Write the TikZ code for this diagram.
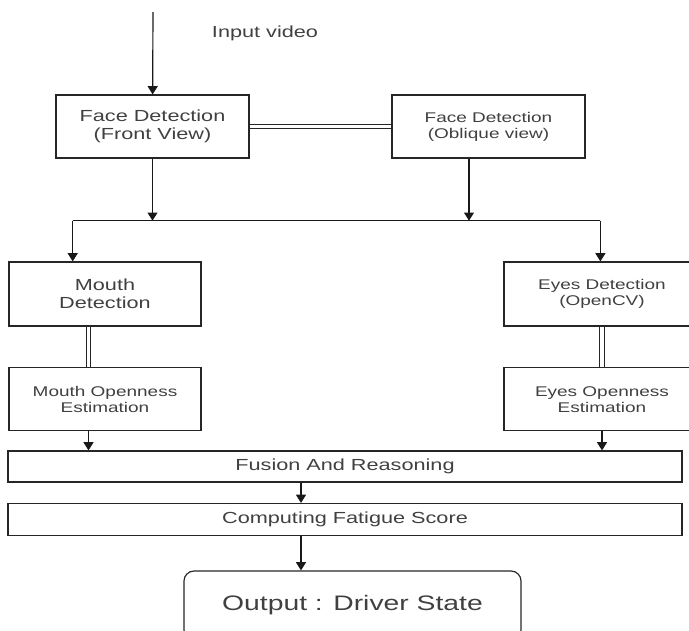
\documentclass[tikz,border=0pt]{standalone}
\usepackage{fontspec}
\setmainfont[FakeStretch=1.35]{Liberation Sans}
\usetikzlibrary{arrows.meta}

\begin{document}
\begin{tikzpicture}[x=0.03cm,y=-0.03cm,line width=1pt,
    every node/.style={text=black!75,align=center,font=\fontsize{13.7}{15}\selectfont},
    smalltext/.style={font=\fontsize{12}{13.6}\selectfont}]
\useasboundingbox (0,0) rectangle (689,630);
\clip (0,0) rectangle (689,630);
\begin{scope}[every node/.append style={rectangle,draw=black!85,minimum height=1.89cm}]
    \node (front) at (152.5,126.5) [minimum width=5.79cm] {Face Detection\\(Front View)};
    \node (oblique) at (488.5,126.5) [minimum width=5.79cm,smalltext] {Face Detection\\(Oblique view)};
    \node (mouthdet) at (105,294) [minimum width=5.76cm,minimum height=1.92cm] {Mouth\\Detection};
    \node (eyesdet) at (602,294) [minimum width=5.88cm,minimum height=1.92cm,smalltext] {Eyes Detection\\(OpenCV)};
    \node (mouthopen) at (105,399.2) [minimum width=5.76cm,smalltext] {Mouth Openness\\Estimation};
    \node (eyesopen) at (602,399.2) [minimum width=5.88cm,smalltext] {Eyes Openness\\Estimation};
    \node (fusion) at (345,466.5) [minimum width=20.22cm,minimum height=0.93cm] {Fusion And Reasoning};
    \node (comp) at (345,519.5) [minimum width=20.22cm,minimum height=0.96cm] {Computing Fatigue Score};
\end{scope}
\node (out) at (352.5,605.5) [rectangle,draw=black!85,rounded corners=0.3cm,
    minimum width=10.11cm,minimum height=2.07cm,font=\fontsize{17.9}{20}\selectfont] {Output : Driver State};
\node (inlabel) at (265,33) {Input video};
\coordinate (in) at (153,12);
\coordinate (jl) at (72.7,220.7);
\coordinate (jo) at (469,220.7);
\coordinate (jr) at (600.4,220.7);
\coordinate (mcol) at (88.5,0);
\coordinate (mid) at (301,0);
\begin{scope}[>={Triangle[width=8.5pt,length=7pt]},
              every edge/.style={draw=black!90}]
    \path [->] (in) edge (front);
    \path [->] (front) edge (front |- jl);
    \path [->] (oblique.south -| jo) edge (jo);
    \path [-] (jl) edge (jr);
    \path [->] (jl) edge (jl |- mouthdet.north);
    \path [->] (jr) edge (jr |- eyesdet.north);
    \path [->] (mouthopen.south -| mcol) edge (fusion.north -| mcol);
    \path [->] (eyesopen) edge (eyesopen |- fusion.north);
    \path [->] (fusion.south -| mid) edge (comp.north -| mid);
    \path [->] (comp.south -| mid) edge (out.north -| mid);
\end{scope}
\begin{scope}[every edge/.style={draw=black!85,double,double distance=3pt,line width=0.8pt}]
    \path (front) edge (oblique);
    \path (mouthdet.south -| mcol) edge (mouthopen.north -| mcol);
    \path (eyesdet) edge (eyesopen);
\end{scope}
\end{tikzpicture}
\end{document}
